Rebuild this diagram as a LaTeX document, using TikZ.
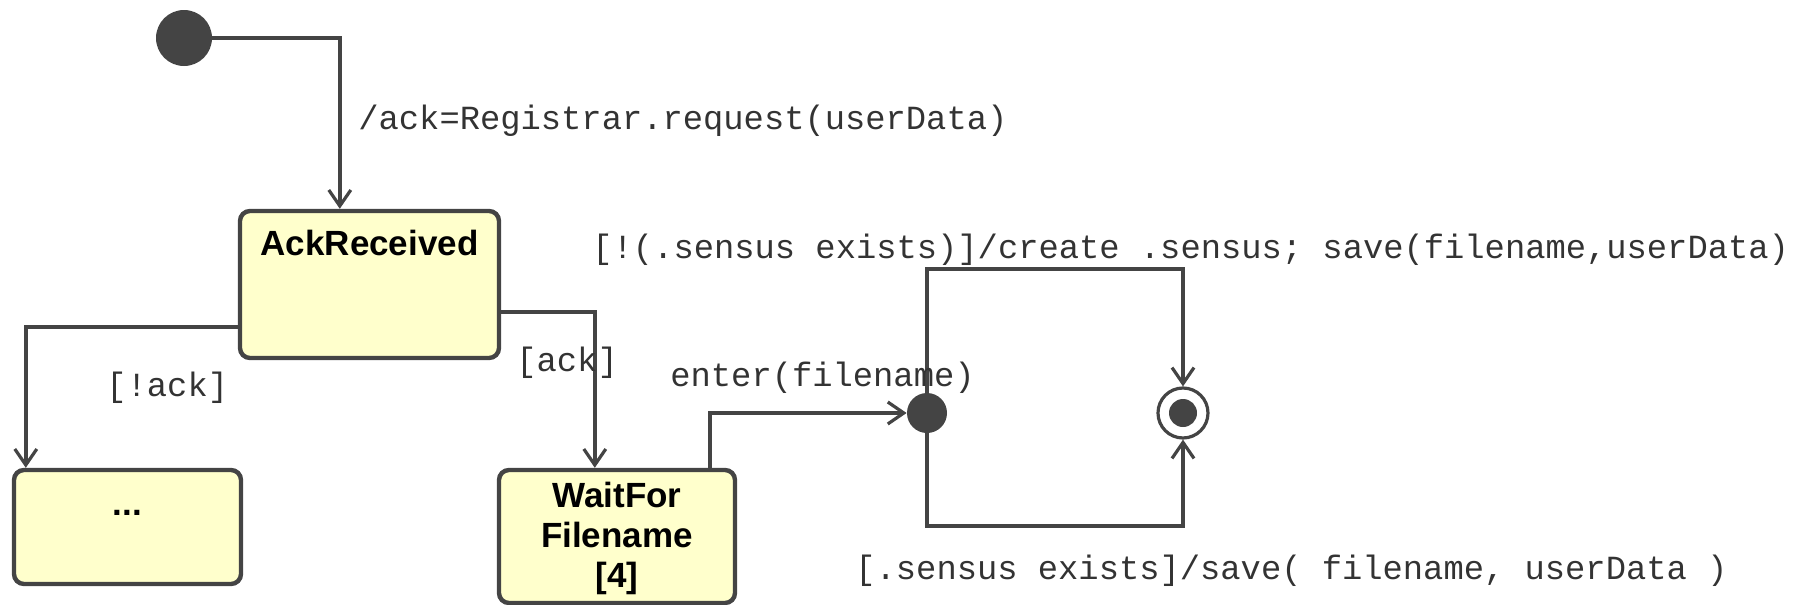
\documentclass[tikz,border=0pt]{standalone}
\usepackage{fontspec}
\setmainfont{Liberation Sans}
\setmonofont{Liberation Mono}
\usetikzlibrary{arrows.meta,calc}
\definecolor{edge}{HTML}{444444}
\definecolor{statefill}{HTML}{FFFFCC}
\definecolor{labelgray}{HTML}{333333}
\tikzset{
  statebox/.style={draw=edge, line width=2.2pt, fill=statefill, rounded corners=5pt,
    rectangle, inner sep=0pt},
  conn/.style={draw=edge, line width=1.8pt,
    -{Straight Barb[length=8pt,width=11pt,line width=1.6pt]}},
  pseudo/.style={circle, fill=edge, draw=none, inner sep=0pt},
  guard/.style={font=\ttfamily\fontsize{16.9}{19}\selectfont, text=labelgray,
    inner sep=0pt, anchor=west},
  statename/.style={font=\bfseries\fontsize{17.5}{19.5}\selectfont, align=center}
}
\begin{document}
\begin{tikzpicture}[x=0.5pt,y=-0.5pt]
  \useasboundingbox (0,0) rectangle (1812,605);

  % states
  \node[pseudo, minimum size=28pt] (init) at (184,38) {};
  \node[statebox, minimum width=129.5pt, minimum height=73.5pt,
        label={[statename, anchor=north, yshift=-7pt]north:AckReceived}] (ack) at (369.5,284.5) {};
  \node[statebox, minimum width=113.5pt, minimum height=57pt] (dots) at (127.5,527) {};
  \node[statename] (dotstext) at (127.5,513) {...};
  \node[statebox, minimum width=118pt, minimum height=66.5pt] (wait) at (617,536.5) {};
  \node[statename, inner sep=0pt] (waittext) at (617,538)
       {WaitFor\\[0.5pt]Filename\\[0.5pt][4]};

  % choice point and final state
  \node[pseudo, minimum size=20pt] (junc) at (927,413) {};
  \node[circle, draw=edge, line width=1.6pt, fill=white, minimum size=25pt, inner sep=0pt] (final) at (1183,413) {};
  \node[pseudo, minimum size=14pt] (finaldot) at (final) {};
  \coordinate (looptop) at (927,269);
  \coordinate (loopbot) at (927,526);

  % transitions
  \draw[conn] (init.east) -| ([xshift=51pt]ack.north west);
  \draw[conn] ([yshift=-21.25pt]ack.west) -| ([xshift=7pt]dots.north west);
  \draw[conn] ([yshift=-13.75pt]ack.east) -| ([xshift=49pt]wait.north west);
  \draw[conn] ([xshift=106.5pt]wait.north west) |- (junc.west);
  \draw[conn] (junc.north) -- (looptop) -| (final.north);
  \draw[conn] (junc.south) -- (loopbot) -| (final.south);

  % transition labels
  \node[guard] (lblinit) at (358,121) {/ack=Registrar.request(userData)};
  \node[guard] (lblnack) at (106,388) {[!ack]};
  \node[guard] (lblack) at (516,363) {[ack]};
  \node[guard] (lblenter) at (670,378) {enter(filename)};
  \node[guard] (lblcreate) at (592,250) {[!(.sensus exists)]/create .sensus; save(filename,userData)};
  \node[guard] (lblsave) at (855,571) {[.sensus exists]/save( filename, userData )};
\end{tikzpicture}
\end{document}
